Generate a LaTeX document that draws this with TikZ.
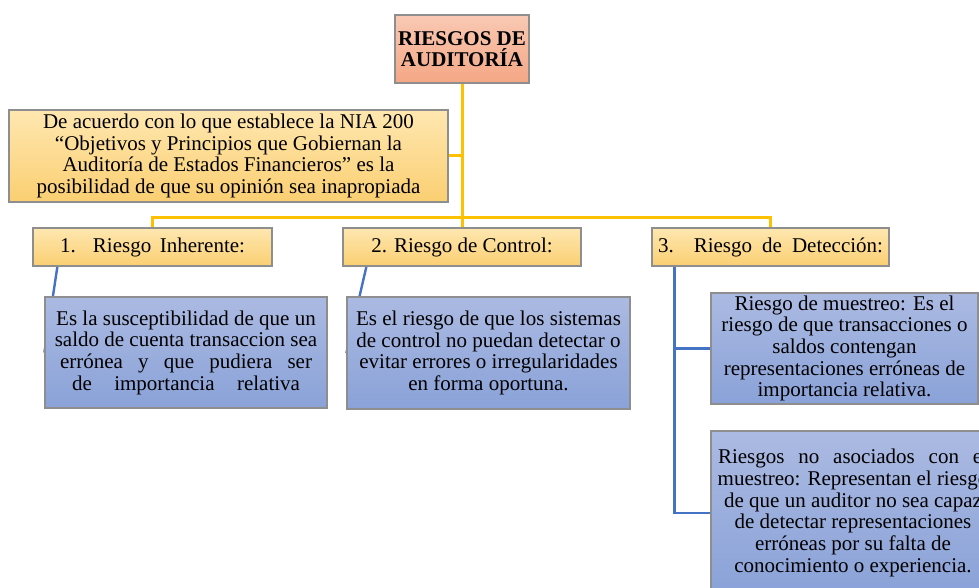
\documentclass[tikz,border=0pt]{standalone}
\usepackage{fontspec}
\setmainfont{Liberation Serif}
\usetikzlibrary{backgrounds}
\definecolor{amarillo}{HTML}{FFC000}
\definecolor{azulin}{HTML}{4472C4}
\definecolor{borde}{HTML}{8E8E8E}
\definecolor{salmonarriba}{RGB}{249,201,179}
\definecolor{salmonabajo}{RGB}{244,167,133}
\definecolor{crema}{RGB}{254,231,176}
\definecolor{mostaza}{RGB}{251,207,114}
\definecolor{celeste}{RGB}{171,186,226}
\definecolor{lavanda}{RGB}{138,162,216}
\tikzset{
	caja/.style={draw=borde, line width=1.2pt, inner xsep=1pt, inner ysep=0pt, align=center, font=\fontsize{21}{21.7}\selectfont},
	naranja/.style={caja, top color=crema, bottom color=mostaza},
	azul/.style={caja, top color=celeste, bottom color=lavanda},
	rama/.style={draw=amarillo, line width=3pt},
	enlace/.style={draw=azulin, line width=2.4pt}
}
\begin{document}
\begin{tikzpicture}[x=1pt, y=-1pt]
			%%%%% START %%%%%
			
			\clip (0, 0) rectangle (979, 588);
			
			\node[caja, top color=salmonarriba, bottom color=salmonabajo, minimum width=134pt, minimum height=68pt, font=\fontsize{21}{21.5}\selectfont\bfseries] (titulo) at (462, 49) {RIESGOS DE\\AUDITORÍA};
			
			\node[naranja, minimum width=439pt, minimum height=92pt] (definicion) at (228.5, 156) {De acuerdo con lo que establece la NIA 200\\“Objetivos y Principios que Gobiernan la\\Auditoría de Estados Financieros” es la\\posibilidad de que su opinión sea inapropiada};
			
			\node[naranja, minimum width=239pt, minimum height=38pt] (inherente) at (152.5, 247) {\makebox[185pt][s]{1.\ \ Riesgo Inherente:}};
			\node[naranja, minimum width=238pt, minimum height=38pt] (control) at (462, 247) {2. Riesgo de Control:};
			\node[naranja, minimum width=237pt, minimum height=38pt] (deteccion) at (770.5, 247) {\makebox[225pt][s]{3.\ \ Riesgo de Detección:}};
			
			\node[azul, minimum width=282pt, minimum height=111pt] (desc1) at (186, 352.5) {Es la susceptibilidad de que un\\saldo de cuenta transaccion sea\\\makebox[252pt][s]{errónea y que pudiera ser}\\\makebox[228pt][s]{de importancia relativa}};
			\node[azul, minimum width=283pt, minimum height=112pt] (desc2) at (488.5, 353) {Es el riesgo de que los sistemas\\de control no puedan detectar o\\evitar errores o irregularidades\\en forma oportuna.};
			
			\node[azul, minimum width=267pt, minimum height=111pt] (muestreo) at (844.5, 348.5) {Riesgo de muestreo: Es el\\riesgo de que transacciones o\\saldos contengan\\representaciones erróneas de\\importancia relativa.};
			\node[azul, minimum width=284pt, minimum height=164pt] (nomuestreo) at (853, 513) {\makebox[270pt][s]{Riesgos no asociados con el}\\muestreo: Representan el riesgo\\de que un auditor no sea capaz\\de detectar representaciones\\erróneas por su falta de\\conocimiento o experiencia.};
			
			\coordinate (barra) at (462, 217);
			\draw[rama] (titulo.south) -- (barra);
			\draw[rama] (definicion.east) -- (definicion.east -| barra);
			\draw[rama] (inherente.north) |- (barra) -| (deteccion.north);
			\draw[rama] (barra) -- (control.north);
			
			\begin{scope}[on background layer]
				\fill[white] (0, 0) rectangle (979, 588);
				\draw[enlace] ([xshift=25pt]inherente.south west) -- (desc1.west);
				\draw[enlace] ([xshift=24pt]control.south west) -- (desc2.west);
			\end{scope}
			
			\coordinate (eje) at ([xshift=23pt]deteccion.south west);
			\draw[enlace] (eje) |- (nomuestreo.west);
			\draw[enlace] (eje |- muestreo.west) -- (muestreo.west);
			
			%%%%% END %%%%%
		\end{tikzpicture}
\end{document}
